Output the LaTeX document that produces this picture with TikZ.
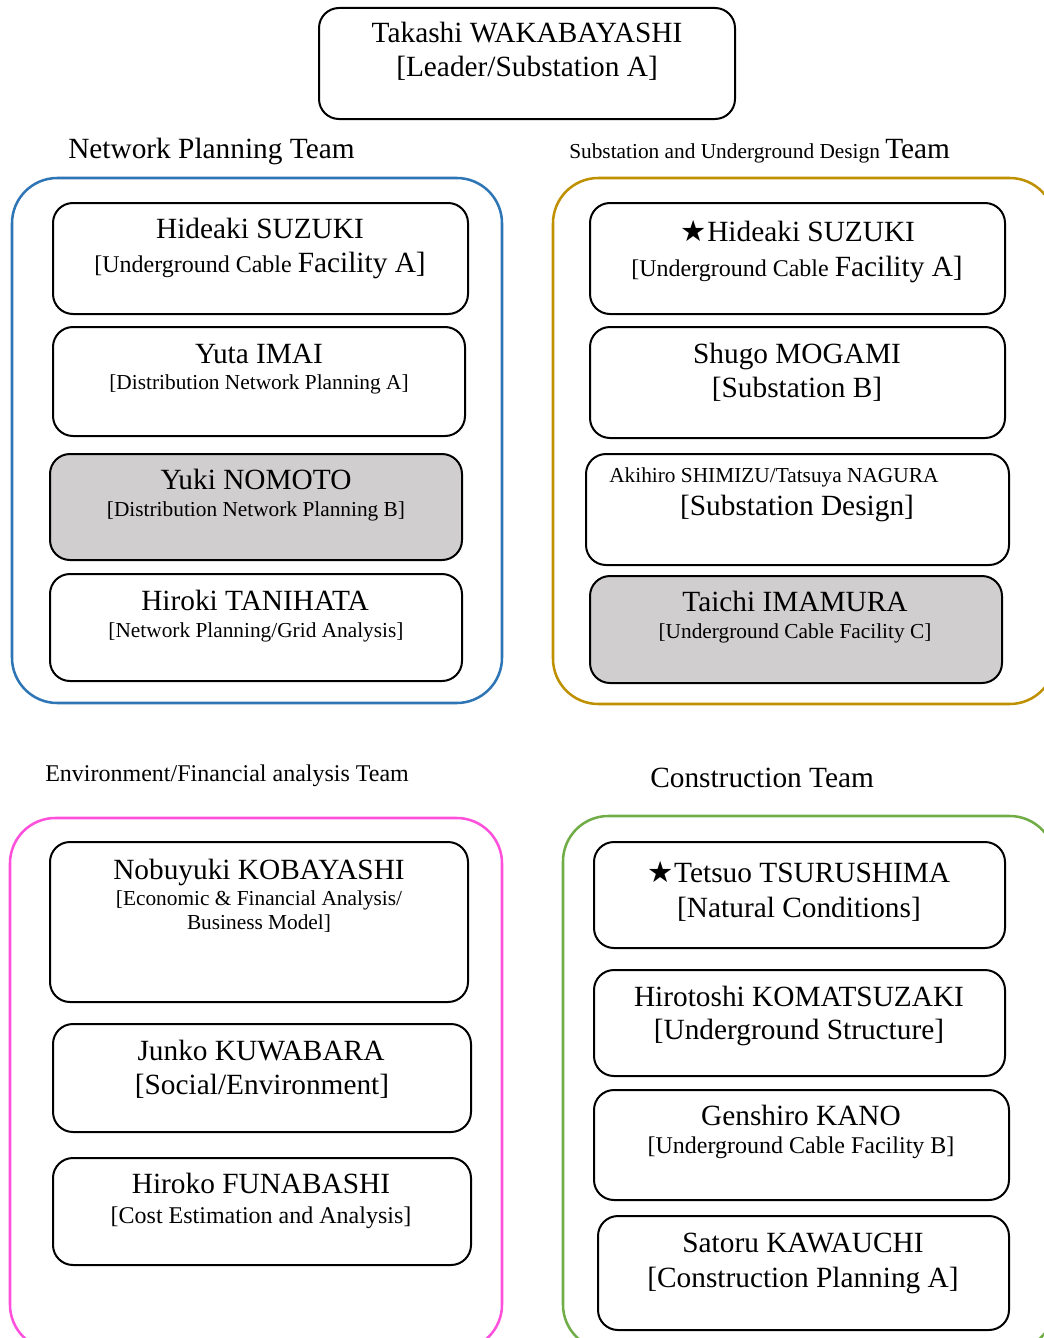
\documentclass[tikz,border=0pt]{standalone}
\usepackage{fontspec}
\setmainfont{Liberation Serif}
\newfontfamily\symfont{DejaVu Sans}
\usetikzlibrary{fit}
\definecolor{npblue}{RGB}{46,117,182}
\definecolor{sugold}{RGB}{191,144,0}
\definecolor{efpink}{RGB}{255,80,220}
\definecolor{ctgreen}{RGB}{112,173,71}
\definecolor{hlgray}{RGB}{208,206,206}
\newcommand{\bigsz}{\fontsize{22}{26}\selectfont}
\newcommand{\starmark}{{\symfont\fontsize{22}{26}\selectfont ★}}
\begin{document}
\begin{tikzpicture}[x=0.75pt,y=-0.75pt,
 team/.style={draw, line width=1.9pt, rounded corners=34pt, inner sep=0pt},
 member/.style={draw, line width=1.5pt, rounded corners=15pt, inner sep=0pt, fill=white},
 hl/.style={member, fill=hlgray},
 big/.style={font=\bigsz, anchor=base, inner sep=0pt},
 mid/.style={font=\fontsize{18}{21}\selectfont, anchor=base, inner sep=0pt},
 small/.style={font=\fontsize{16}{19}\selectfont, anchor=base, inner sep=0pt}]
\useasboundingbox (0,0) rectangle (1043,1338);

% Leader
\node[member, fit={(319,8) (735,119)}] (lead) {};
\node[big] (leadname) at (527,43) {Takashi WAKABAYASHI};
\node[big] (leadrole) at (527,77) {[Leader/Substation A]};

% Network Planning Team
\node[big, anchor=base west] (nplabel) at (68,158) {Network Planning Team};
\node[team, draw=npblue, fit={(12,178) (502,703)}] (np) {};
\node[member, fit={(53,203) (468,314)}] (np1) {};
\node[big] (np1n) at (260,238) {Hideaki SUZUKI};
\node[mid] (np1r) at (260,272) {[Underground Cable {\bigsz Facility A]}};
\node[member, fit={(53,327) (465,436)}] (np2) {};
\node[big] (np2n) at (259,363) {Yuta IMAI};
\node[small] (np2r) at (259,389) {[Distribution Network Planning A]};
\node[hl, fit={(50,454) (462,560)}] (np3) {};
\node[big] (np3n) at (256,489) {Yuki NOMOTO};
\node[small] (np3r) at (256,516) {[Distribution Network Planning B]};
\node[member, fit={(50,574) (462,681)}] (np4) {};
\node[big] (np4n) at (255,610) {Hiroki TANIHATA};
\node[small] (np4r) at (256,637) {[Network Planning/Grid Analysis]};

% Substation and Underground Design Team
\node[small, anchor=base west] (sulabel) at (569,158) {Substation and Underground Design {\bigsz Team}};
\node[team, draw=sugold, fit={(553,178) (1055,704)}] (su) {};
\node[member, fit={(590,203) (1005,314)}] (su1) {};
\node[big] (su1n) at (798,241) {\starmark Hideaki SUZUKI};
\node[mid] (su1r) at (797,276) {[Underground Cable {\bigsz Facility A]}};
\node[member, fit={(590,327) (1005,438)}] (su2) {};
\node[big] (su2n) at (797,363) {Shugo MOGAMI};
\node[big] (su2r) at (797,397) {[Substation B]};
\node[member, fit={(586,454) (1009,565)}] (su3) {};
\node[small, anchor=base west] (su3n) at (609,482) {Akihiro SHIMIZU/Tatsuya NAGURA};
\node[big] (su3r) at (797,515) {[Substation Design]};
\node[hl, fit={(590,576) (1002,683)}] (su4) {};
\node[big] (su4n) at (795,611) {Taichi IMAMURA};
\node[small] (su4r) at (795,638) {[Underground Cable Facility C]};

% Environment/Financial analysis Team
\node[mid, anchor=base west] (eflabel) at (45,781) {Environment/Financial analysis Team};
\node[team, draw=efpink, fit={(10,818) (502,1350)}] (ef) {};
\node[member, fit={(50,842) (468,1002)}] (ef1) {};
\node[big] (ef1n) at (259,879) {Nobuyuki KOBAYASHI};
\node[small] (ef1r) at (259,905) {[Economic \& Financial Analysis/};
\node[small] (ef1s) at (259,929) {Business Model]};
\node[member, fit={(53,1024) (471,1132)}] (ef2) {};
\node[big] (ef2n) at (261,1060) {Junko KUWABARA};
\node[big] (ef2r) at (262,1094) {[Social/Environment]};
\node[member, fit={(53,1158) (471,1265)}] (ef3) {};
\node[big] (ef3n) at (261,1193) {Hiroko FUNABASHI};
\node[mid] (ef3r) at (261,1223) {[Cost Estimation and Analysis]};

% Construction Team
\node[big, anchor=base west] (ctlabel) at (650,787) {Construction Team};
\node[team, draw=ctgreen, fit={(563,816) (1055,1350)}] (ct) {};
\node[member, fit={(594,842) (1005,948)}] (ct1) {};
\node[big] (ct1n) at (799,882) {\starmark Tetsuo TSURUSHIMA};
\node[big] (ct1r) at (799,917) {[Natural Conditions]};
\node[member, fit={(594,970) (1005,1076)}] (ct2) {};
\node[big] (ct2n) at (799,1006) {Hirotoshi KOMATSUZAKI};
\node[big] (ct2r) at (799,1039) {[Underground Structure]};
\node[member, fit={(594,1090) (1009,1200)}] (ct3) {};
\node[big] (ct3n) at (801,1125) {Genshiro KANO};
\node[mid] (ct3r) at (801,1153) {[Underground Cable Facility B]};
\node[member, fit={(598,1216) (1009,1330)}] (ct4) {};
\node[big] (ct4n) at (803,1252) {Satoru KAWAUCHI};
\node[big] (ct4r) at (803,1287) {[Construction Planning A]};
\end{tikzpicture}
\end{document}
